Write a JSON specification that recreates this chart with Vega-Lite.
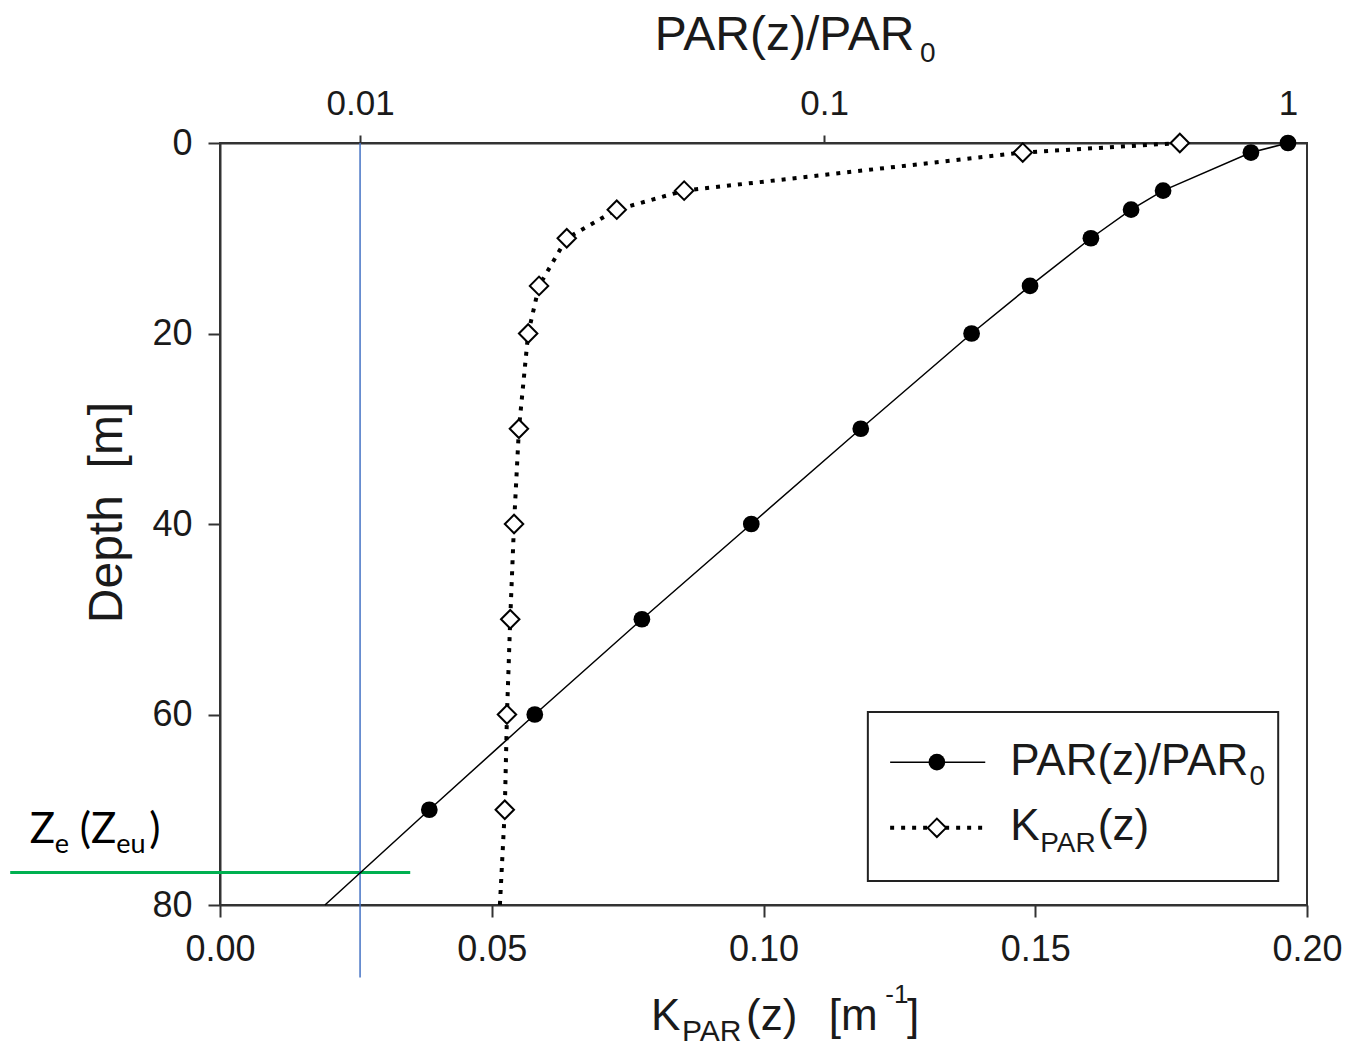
{
  "$schema": "https://vega.github.io/schema/vega-lite/v6.json",
  "width": 1087,
  "height": 762,
  "autosize": {"type": "none"},
  "padding": {"left": 220, "top": 143, "right": 43, "bottom": 143},
  "background": "white",
  "config": {
    "view": {"stroke": "#333", "strokeWidth": 2},
    "axis": {
      "grid": false,
      "labelFont": "Liberation Sans",
      "labelFontSize": 36,
      "labelColor": "#1a1a1a",
      "labelFlush": false,
      "domainColor": "#333",
      "domainWidth": 2,
      "tickColor": "#333",
      "tickWidth": 2,
      "titleFont": "Liberation Sans",
      "titleFontWeight": "normal",
      "titleColor": "#1a1a1a"
    },
    "text": {"font": "Liberation Sans", "color": "#1a1a1a", "align": "left", "baseline": "alphabetic"}
  },
  "datasets": {
    "profile": [
      {"depth": 0, "par": 1.0, "kpar": 0.1766},
      {"depth": 1, "par": 0.832, "kpar": 0.1477},
      {"depth": 5, "par": 0.538, "kpar": 0.0854},
      {"depth": 7, "par": 0.459, "kpar": 0.0730},
      {"depth": 10, "par": 0.376, "kpar": 0.0638},
      {"depth": 15, "par": 0.278, "kpar": 0.0587},
      {"depth": 20, "par": 0.208, "kpar": 0.0567},
      {"depth": 30, "par": 0.120, "kpar": 0.0550},
      {"depth": 40, "par": 0.0697, "kpar": 0.0541},
      {"depth": 50, "par": 0.0405, "kpar": 0.0534},
      {"depth": 60, "par": 0.0238, "kpar": 0.0528},
      {"depth": 70, "par": 0.0141, "kpar": 0.0524},
      {"depth": 80, "par": 0.0084, "kpar": 0.0515}
    ],
    "one": [{}]
  },
  "layer": [
    {
      "layer": [
        {
          "data": {"name": "profile"},
          "mark": {"type": "line", "color": "black", "strokeWidth": 4, "strokeDash": [4, 7]},
          "encoding": {
            "x": {"field": "kpar", "type": "quantitative",
                  "scale": {"domain": [0, 0.2], "nice": false, "zero": false},
                  "axis": {"orient": "bottom", "title": null, "values": [0, 0.05, 0.1, 0.15, 0.2], "format": ".2f", "tickSize": 12, "labelPadding": 15}},
            "y": {"field": "depth", "type": "quantitative",
                  "scale": {"domain": [0, 80], "reverse": true, "nice": false},
                  "axis": {"title": "Depth\u00a0 [m]", "titleFontSize": 48, "titlePadding": 20, "titleY": 369, "values": [0, 20, 40, 60, 80], "tickSize": 12, "labelPadding": 16}},
            "order": {"field": "depth"}
          }
        },
        {
          "data": {"name": "profile"},
          "transform": [{"filter": "datum.depth <= 70"}],
          "mark": {"type": "point", "shape": "diamond", "filled": true, "fill": "white", "stroke": "black", "strokeWidth": 2, "size": 340, "opacity": 1},
          "encoding": {
            "x": {"field": "kpar", "type": "quantitative"},
            "y": {"field": "depth", "type": "quantitative"}
          }
        },
        {
          "data": {"name": "one"},
          "mark": {"type": "rule", "color": "#00B050", "strokeWidth": 3},
          "encoding": {
            "x": {"datum": -0.0386, "type": "quantitative"},
            "x2": {"datum": 0.035},
            "y": {"datum": 76.6, "type": "quantitative"}
          }
        },
        {
          "data": {"name": "one"},
          "mark": {"type": "rect", "fill": "white", "stroke": "#222", "strokeWidth": 2},
          "encoding": {
            "x": {"datum": 0.1192, "type": "quantitative"},
            "x2": {"datum": 0.1947},
            "y": {"datum": 59.74, "type": "quantitative"},
            "y2": {"datum": 77.48}
          }
        },
        {
          "data": {"name": "one"},
          "mark": {"type": "rule", "color": "black", "strokeWidth": 1.5},
          "encoding": {
            "x": {"datum": 0.1233, "type": "quantitative"},
            "x2": {"datum": 0.1408},
            "y": {"datum": 65, "type": "quantitative"}
          }
        },
        {
          "data": {"name": "one"},
          "mark": {"type": "point", "shape": "circle", "filled": true, "color": "black", "size": 280, "opacity": 1},
          "encoding": {
            "x": {"datum": 0.1319, "type": "quantitative"},
            "y": {"datum": 65, "type": "quantitative"}
          }
        },
        {
          "data": {"name": "one"},
          "mark": {"type": "rule", "color": "black", "strokeWidth": 4, "strokeDash": [4, 7]},
          "encoding": {
            "x": {"datum": 0.1233, "type": "quantitative"},
            "x2": {"datum": 0.1408},
            "y": {"datum": 71.9, "type": "quantitative"}
          }
        },
        {
          "data": {"name": "one"},
          "mark": {"type": "point", "shape": "diamond", "filled": true, "fill": "white", "stroke": "black", "strokeWidth": 2, "size": 340, "opacity": 1},
          "encoding": {
            "x": {"datum": 0.1319, "type": "quantitative"},
            "y": {"datum": 71.9, "type": "quantitative"}
          }
        },
        {
          "data": {"name": "one"},
          "mark": {"type": "text", "fontSize": 44},
          "encoding": {"x": {"datum": 0.1454, "type": "quantitative"}, "y": {"datum": 66.35, "type": "quantitative"}, "text": {"value": "PAR(z)/PAR"}}
        },
        {
          "data": {"name": "one"},
          "mark": {"type": "text", "fontSize": 28},
          "encoding": {"x": {"datum": 0.1894, "type": "quantitative"}, "y": {"datum": 67.4, "type": "quantitative"}, "text": {"value": "0"}}
        },
        {
          "data": {"name": "one"},
          "mark": {"type": "text", "fontSize": 44},
          "encoding": {"x": {"datum": 0.1454, "type": "quantitative"}, "y": {"datum": 73.2, "type": "quantitative"}, "text": {"value": "K"}}
        },
        {
          "data": {"name": "one"},
          "mark": {"type": "text", "fontSize": 28},
          "encoding": {"x": {"datum": 0.1509, "type": "quantitative"}, "y": {"datum": 74.4, "type": "quantitative"}, "text": {"value": "PAR"}}
        },
        {
          "data": {"name": "one"},
          "mark": {"type": "text", "fontSize": 44},
          "encoding": {"x": {"datum": 0.1615, "type": "quantitative"}, "y": {"datum": 73.2, "type": "quantitative"}, "text": {"value": "(z)"}}
        },
        {
          "data": {"name": "one"},
          "mark": {"type": "text", "fontSize": 48},
          "encoding": {"x": {"datum": 0.0800, "type": "quantitative"}, "y": {"datum": -9.76, "type": "quantitative"}, "text": {"value": "PAR(z)/PAR"}}
        },
        {
          "data": {"name": "one"},
          "mark": {"type": "text", "fontSize": 28},
          "encoding": {"x": {"datum": 0.1288, "type": "quantitative"}, "y": {"datum": -8.5, "type": "quantitative"}, "text": {"value": "0"}}
        },
        {
          "data": {"name": "one"},
          "mark": {"type": "text", "fontSize": 44},
          "encoding": {"x": {"datum": 0.0793, "type": "quantitative"}, "y": {"datum": 93.1, "type": "quantitative"}, "text": {"value": "K"}}
        },
        {
          "data": {"name": "one"},
          "mark": {"type": "text", "fontSize": 30},
          "encoding": {"x": {"datum": 0.0850, "type": "quantitative"}, "y": {"datum": 94.3, "type": "quantitative"}, "text": {"value": "PAR"}}
        },
        {
          "data": {"name": "one"},
          "mark": {"type": "text", "fontSize": 44},
          "encoding": {"x": {"datum": 0.0968, "type": "quantitative"}, "y": {"datum": 93.1, "type": "quantitative"}, "text": {"value": "(z)"}}
        },
        {
          "data": {"name": "one"},
          "mark": {"type": "text", "fontSize": 44},
          "encoding": {"x": {"datum": 0.1120, "type": "quantitative"}, "y": {"datum": 93.1, "type": "quantitative"}, "text": {"value": "[m"}}
        },
        {
          "data": {"name": "one"},
          "mark": {"type": "text", "fontSize": 26},
          "encoding": {"x": {"datum": 0.1224, "type": "quantitative"}, "y": {"datum": 90.3, "type": "quantitative"}, "text": {"value": "-1"}}
        },
        {
          "data": {"name": "one"},
          "mark": {"type": "text", "fontSize": 44},
          "encoding": {"x": {"datum": 0.1264, "type": "quantitative"}, "y": {"datum": 93.1, "type": "quantitative"}, "text": {"value": "]"}}
        },
        {
          "data": {"name": "one"},
          "mark": {"type": "text", "fontSize": 42, "font": "Lato", "color": "black"},
          "encoding": {"x": {"datum": -0.0350, "type": "quantitative"}, "y": {"datum": 73.5, "type": "quantitative"}, "text": {"value": "Z"}}
        },
        {
          "data": {"name": "one"},
          "mark": {"type": "text", "fontSize": 27, "font": "Lato", "color": "black"},
          "encoding": {"x": {"datum": -0.0304, "type": "quantitative"}, "y": {"datum": 74.5, "type": "quantitative"}, "text": {"value": "e"}}
        },
        {
          "data": {"name": "one"},
          "mark": {"type": "text", "fontSize": 42, "font": "Lato", "color": "black"},
          "encoding": {"x": {"datum": -0.0258, "type": "quantitative"}, "y": {"datum": 73.5, "type": "quantitative"}, "text": {"value": "(Z"}}
        },
        {
          "data": {"name": "one"},
          "mark": {"type": "text", "fontSize": 27, "font": "Lato", "color": "black"},
          "encoding": {"x": {"datum": -0.0191, "type": "quantitative"}, "y": {"datum": 74.5, "type": "quantitative"}, "text": {"value": "eu"}}
        },
        {
          "data": {"name": "one"},
          "mark": {"type": "text", "fontSize": 42, "font": "Lato", "color": "black"},
          "encoding": {"x": {"datum": -0.0130, "type": "quantitative"}, "y": {"datum": 73.5, "type": "quantitative"}, "text": {"value": ")"}}
        }
      ]
    },
    {
      "layer": [
        {
          "data": {"name": "one"},
          "mark": {"type": "rule", "color": "#4472C4", "strokeWidth": 1.5},
          "encoding": {
            "x": {"datum": 0.01, "type": "quantitative",
                  "scale": {"type": "log", "domain": [0.00499, 1.099], "nice": false},
                  "axis": {"orient": "top", "title": null, "values": [0.01, 0.1, 1], "format": "~g", "tickSize": 8, "labelPadding": 14, "labelFontSize": 35}},
            "y": {"datum": 0, "type": "quantitative"},
            "y2": {"datum": 87.6}
          }
        },
        {
          "data": {"name": "profile"},
          "mark": {"type": "line", "color": "black", "strokeWidth": 1.5},
          "encoding": {
            "x": {"field": "par", "type": "quantitative"},
            "y": {"field": "depth", "type": "quantitative"},
            "order": {"field": "depth"}
          }
        },
        {
          "data": {"name": "profile"},
          "transform": [{"filter": "datum.depth <= 70"}],
          "mark": {"type": "point", "shape": "circle", "filled": true, "color": "black", "size": 280, "opacity": 1},
          "encoding": {
            "x": {"field": "par", "type": "quantitative"},
            "y": {"field": "depth", "type": "quantitative"}
          }
        }
      ]
    }
  ],
  "resolve": {"scale": {"x": "independent"}, "axis": {"x": "independent"}}
}
